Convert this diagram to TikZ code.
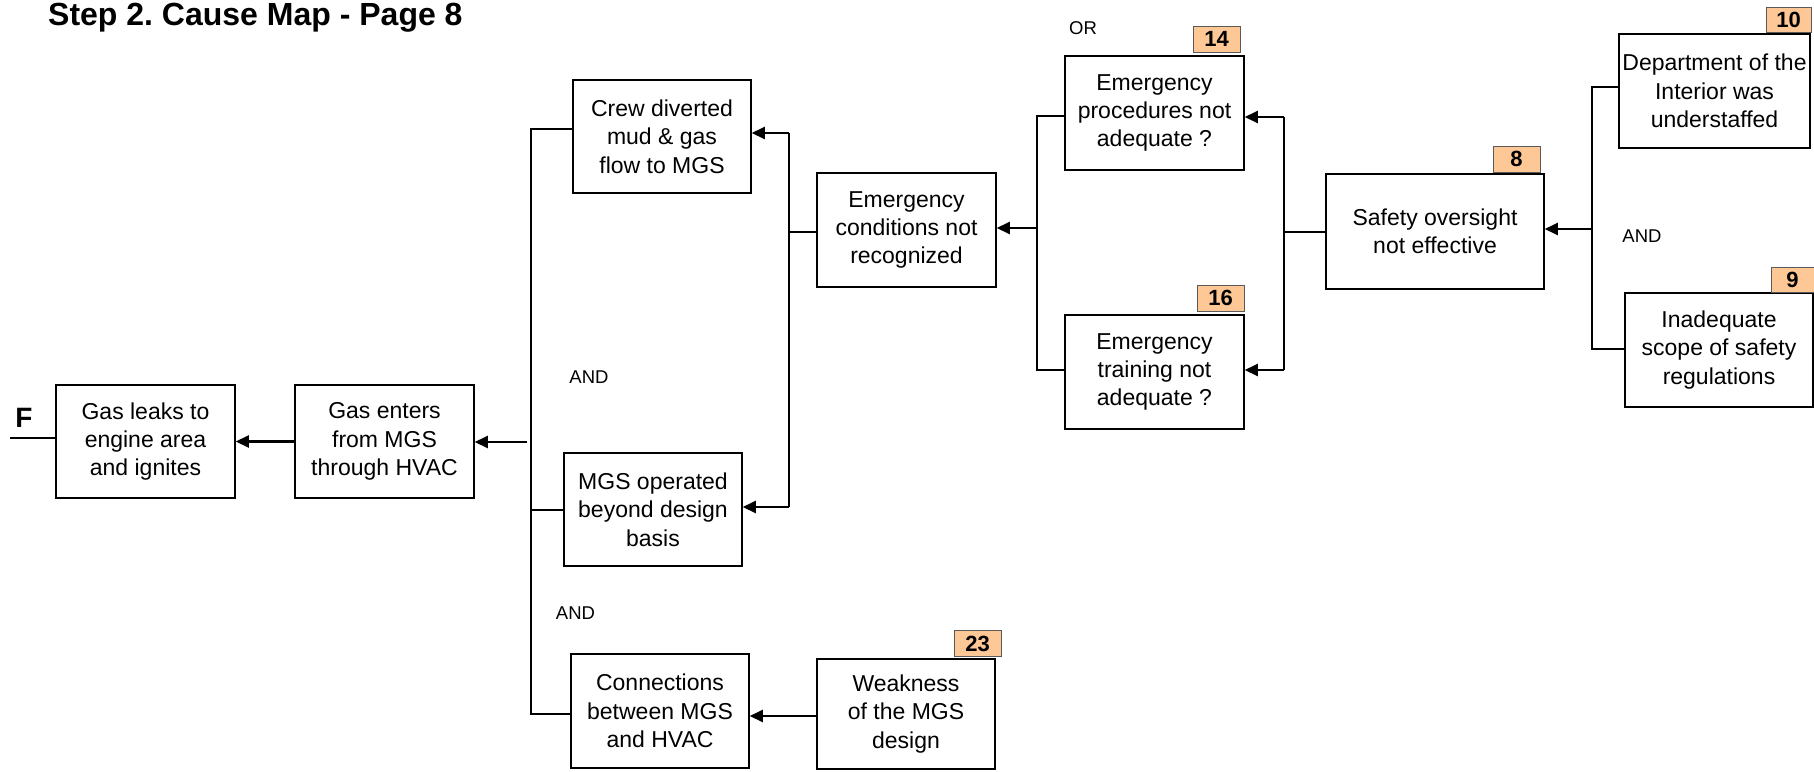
\documentclass[tikz,border=0pt]{standalone}
\usepackage{fontspec}
\setmainfont{Liberation Sans}
\usetikzlibrary{arrows.meta}
\definecolor{badgefill}{RGB}{254,200,150}
\definecolor{badgeline}{RGB}{90,90,90}
\frenchspacing
\begin{document}
\begin{tikzpicture}[x=1pt,y=-1pt,
  box/.style={draw=black, line width=1.5pt, align=center, inner sep=0pt,
    font={\fontsize{23}{28.3}\selectfont}},
  badge/.style={draw=badgeline, fill=badgefill, line width=1pt, inner sep=0pt,
    minimum width=47pt, minimum height=26pt, font={\fontsize{22}{24}\selectfont\bfseries}},
  gate/.style={inner sep=0pt, font={\fontsize{18.5}{20}\selectfont}},
  link/.style={line width=1.4pt},
  arr/.style={line width=2.1pt, -{Triangle[length=13pt,width=12pt]}}]
\useasboundingbox (0,0) rectangle (1814,771);

% title
\node[anchor=base west, inner sep=0pt, font={\fontsize{32}{36}\selectfont\bfseries}] (title) at (48,25) {Step 2. Cause Map - Page 8};

% boxes
\node[box, minimum width=179pt, minimum height=113pt] (leak) at (145.5,441.5) {Gas leaks to\\engine area\\and ignites};
\node[box, minimum width=179pt, minimum height=113pt] (enter) at (384.5,441.5) {Gas enters\\from MGS\\through HVAC};
\node[box, minimum width=178pt, minimum height=113pt] (crew) at (662,136.5) {Crew diverted\\mud \& gas\\flow to MGS};
\node[box, minimum width=178pt, minimum height=113pt] (mgsop) at (653,509.5) {MGS operated\\beyond design\\basis};
\node[box, minimum width=178pt, minimum height=114pt] (conn) at (660,711) {Connections\\between MGS\\and HVAC};
\node[box, minimum width=178pt, minimum height=110pt] (weak) at (906,714) {Weakness\\of the MGS\\design};
\node[box, minimum width=179pt, minimum height=114pt] (econd) at (906.5,230) {Emergency\\conditions not\\recognized};
\node[box, minimum width=179pt, minimum height=114pt] (eproc) at (1154.5,113) {Emergency\\procedures not\\adequate ?};
\node[box, minimum width=179pt, minimum height=114pt] (etrain) at (1154.5,372) {Emergency\\training not\\adequate ?};
\node[box, minimum width=218pt, minimum height=115pt] (safety) at (1435,231.5) {Safety oversight\\not effective};
\node[box, minimum width=191pt, minimum height=114pt] (dept) at (1714.5,91) {Department of the\\Interior was\\understaffed};
\node[box, minimum width=188pt, minimum height=114pt] (inadeq) at (1719,350) {Inadequate\\scope of safety\\regulations};

% reference numbers
\node[badge] (b14) at (1216.5,39) {14};
\node[badge] (b16) at (1220.5,298) {16};
\node[badge] (b8) at (1516.5,159) {8};
\node[badge, minimum width=45pt, minimum height=25pt] (b10) at (1788.5,19.5) {10};
\node[badge, minimum width=43pt, minimum height=25pt] (b9) at (1792.5,279.5) {9};
\node[badge] (b23) at (977.5,643.5) {23};

% gate labels
\node[gate] (or1) at (1083,28) {OR};
\node[gate] (and1) at (589,377) {AND};
\node[gate] (and2) at (575.5,613) {AND};
\node[gate] (and3) at (1642,236) {AND};
\node[inner sep=0pt, font={\fontsize{28}{30}\selectfont\bfseries}] (flabel) at (24,418) {F};

% page connector stub
\coordinate (fstub) at (10,438);
\draw[link] (fstub) -- (fstub -| leak.west);

% gas enters -> gas leaks
\draw[arr] (enter.west) -- (leak.east);

% AND trunk feeding "Gas enters"
\coordinate (ta) at (531,129);
\coordinate (tb) at (531,510);
\coordinate (tc) at (531,714);
\coordinate (tout) at (527,442);
\draw[link] (ta -| crew.west) -- (ta) -- (tc) -- (tc -| conn.west);
\draw[link] (tb) -- (tb -| mgsop.west);
\draw[arr] (tout) -- (tout -| enter.east);

% emergency conditions -> crew / MGS operated
\coordinate (ea) at (789,133);
\coordinate (eb) at (789,507);
\coordinate (ec) at (789,232);
\draw[link] (ea) -- (eb);
\draw[link] (ec) -- (ec -| econd.west);
\draw[arr] (ea) -- (ea -| crew.east);
\draw[arr] (eb) -- (eb -| mgsop.east);

% OR branch -> emergency conditions
\coordinate (oa) at (1037,116);
\coordinate (ob) at (1037,370);
\coordinate (oc) at (1037,228);
\draw[link] (oa -| eproc.west) -- (oa) -- (ob) -- (ob -| etrain.west);
\draw[arr] (oc) -- (oc -| econd.east);

% safety oversight -> procedures / training
\coordinate (sa) at (1284,117);
\coordinate (sb) at (1284,370);
\coordinate (sc) at (1284,232);
\draw[link] (sa) -- (sb);
\draw[link] (sc) -- (sc -| safety.west);
\draw[arr] (sa) -- (sa -| eproc.east);
\draw[arr] (sb) -- (sb -| etrain.east);

% AND branch -> safety oversight
\coordinate (da) at (1592,87);
\coordinate (db) at (1592,349);
\coordinate (dc) at (1592,229);
\draw[link] (da -| dept.west) -- (da) -- (db) -- (db -| inadeq.west);
\draw[arr] (dc) -- (dc -| safety.east);

% weakness -> connections
\coordinate (wa) at (817,716);
\draw[arr] (wa) -- (wa -| conn.east);
\end{tikzpicture}
\end{document}
